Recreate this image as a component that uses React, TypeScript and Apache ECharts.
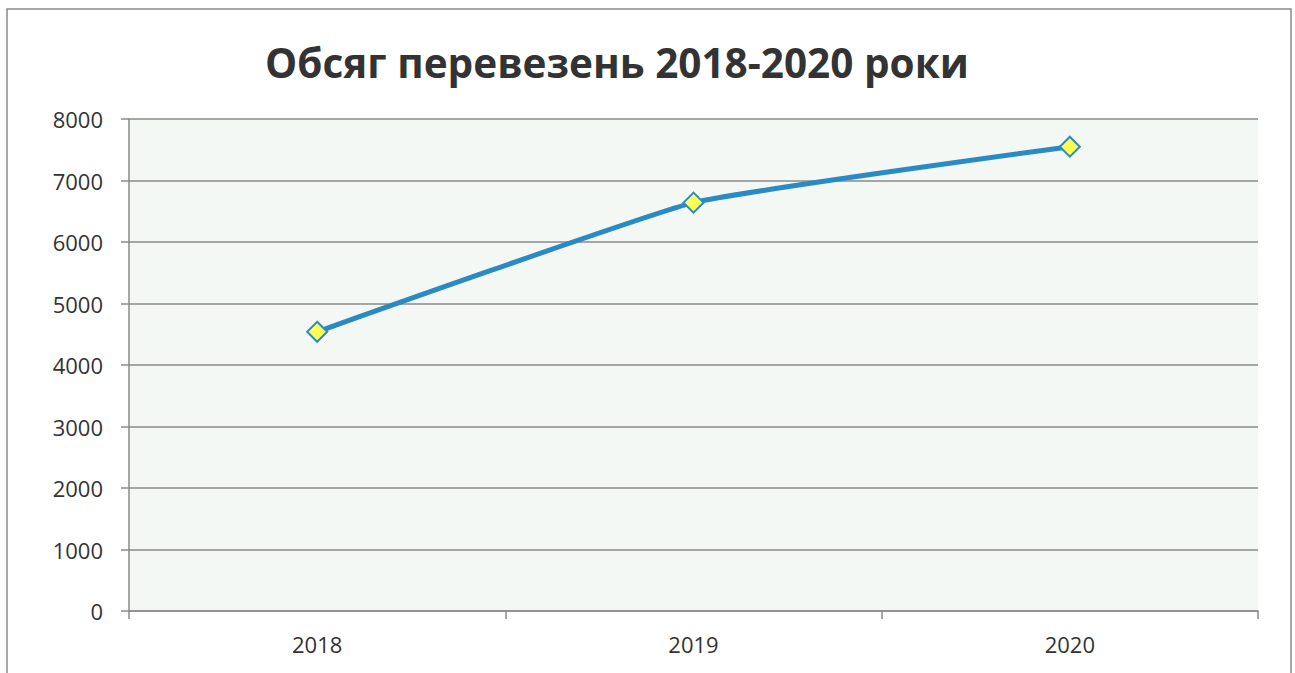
import React, { useEffect, useRef } from "react";
import * as echarts from "echarts";

const titleText = "Обсяг перевезень 2018-2020 роки";
const categories = ["2018", "2019", "2020"];
const values = [4540, 6640, 7550];
const yMin = 0;
const yMax = 8000;
const yInterval = 1000;

export default function App() {
  const ref = useRef<HTMLDivElement>(null);
  useEffect(() => {
    document.body.style.margin = "0";
    const chart = echarts.init(ref.current!, null, { renderer: "svg" });
    const axisColor = "#8a8a8a";
    chart.setOption({
      animation: false,
      backgroundColor: "#ffffff",
      title: {
        text: titleText,
        left: 612,
        top: 37,
        textAlign: "center",
        textStyle: {
          fontFamily: "Open Sans",
          fontWeight: "bold",
          fontSize: 40.5,
          color: "#333333",
        },
      },
      graphic: [
        {
          type: "rect",
          shape: { x: 7, y: 9, width: 1284, height: 700 },
          style: { fill: "none", stroke: "#8c8c8c", lineWidth: 1.5 },
          silent: true,
        },
      ],
      grid: {
        left: 129,
        right: 37,
        top: 119,
        bottom: 62,
        show: true,
        backgroundColor: "#f4f8f4",
        borderWidth: 0,
      },
      xAxis: {
        type: "category",
        data: categories,
        boundaryGap: true,
        axisLine: { show: true, lineStyle: { color: axisColor, width: 1.5 } },
        axisTick: { show: true, length: 8, alignWithLabel: false, lineStyle: { color: axisColor, width: 1.5 } },
        axisLabel: { margin: 22, fontSize: 22, color: "#333333", fontFamily: "Open Sans" },
        splitLine: { show: false },
      },
      yAxis: {
        type: "value",
        min: yMin,
        max: yMax,
        interval: yInterval,
        axisLine: { show: true, lineStyle: { color: axisColor, width: 1.5 } },
        axisTick: { show: true, length: 8, lineStyle: { color: axisColor, width: 1.5 } },
        axisLabel: {
          margin: 26,
          fontSize: 22,
          color: "#333333",
          fontFamily: "Open Sans",
          formatter: (v: number) => String(v),
        },
        splitLine: { show: true, lineStyle: { color: axisColor, width: 1.5 } },
      },
      series: [
        {
          type: "line",
          data: values,
          smooth: 0.12,
          symbol: "diamond",
          symbolSize: 20,
          lineStyle: { color: "#2a8ac4", width: 5 },
          itemStyle: { color: "#ffff55", borderColor: "#2a8ac4", borderWidth: 2 },
        },
      ],
    });
    return () => chart.dispose();
  }, []);
  return <div ref={ref} style={{ width: 1295, height: 673 }} />;
}
